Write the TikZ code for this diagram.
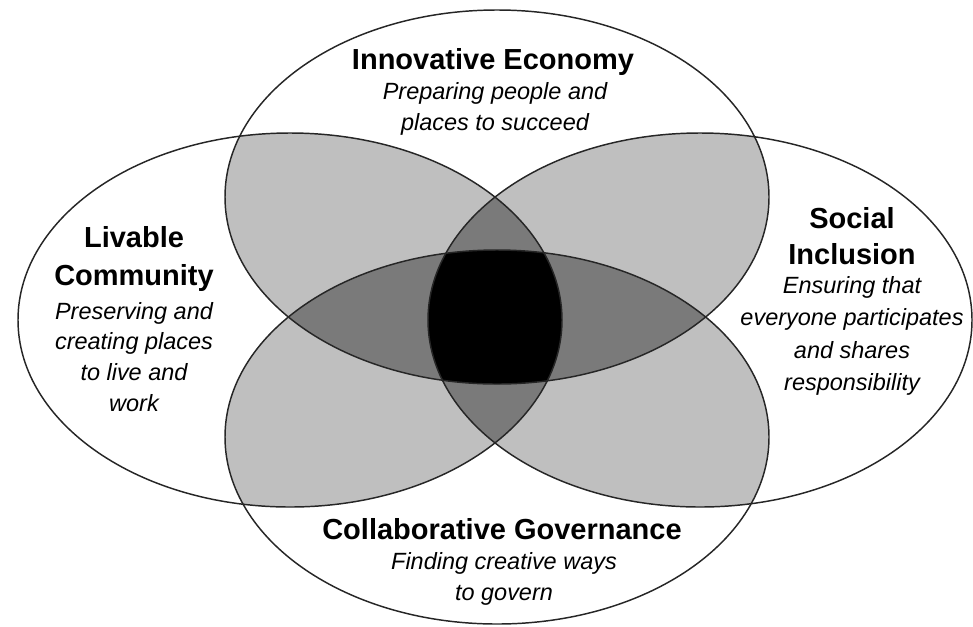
\documentclass[tikz,border=0pt]{standalone}
\usepackage{fontspec}
\setmainfont{Liberation Sans}
\tikzset{ring/.style={draw=black!85, line width=1.1pt}}
\tikzset{two/.style={fill=black!25}, three/.style={fill=black!52},
    four/.style={fill=black}}
\tikzset{head/.style={font=\fontsize{21.75}{27}\selectfont\bfseries,
    align=center, inner sep=0pt}}
\tikzset{sub/.style={font=\fontsize{17.6}{23.2}\selectfont\itshape,
    align=center, inner sep=0pt}}

\begin{document}
\begin{tikzpicture}[x=0.75pt, y=-0.75pt, x radius=272, y radius=187]
    \useasboundingbox (0,0) rectangle (973,626);
    \coordinate (top) at (497,197);
    \coordinate (bot) at (497,437);
    \coordinate (lft) at (290,320);
    \coordinate (rgt) at (700,320);

    \foreach \a/\b in {top/bot,top/lft,top/rgt,bot/lft,bot/rgt,lft/rgt} {
      \begin{scope}
        \clip (\a) ellipse[];
        \fill[two] (\b) ellipse[];
      \end{scope}
    }
    \foreach \a/\b/\c in {top/bot/lft,top/bot/rgt,top/lft/rgt,bot/lft/rgt} {
      \begin{scope}
        \clip (\a) ellipse[];
        \clip (\b) ellipse[];
        \fill[three] (\c) ellipse[];
      \end{scope}
    }
    \begin{scope}
      \clip (top) ellipse[];
      \clip (bot) ellipse[];
      \clip (lft) ellipse[];
      \fill[four] (rgt) ellipse[];
    \end{scope}
    \foreach \a in {top,bot,lft,rgt}
    \draw[ring] (\a) ellipse[];

    \node[head] (ieHead) at (493,62) {Innovative Economy};
    \node[sub] (ieSub) at (495,109) {Preparing people and\\places to succeed};
    \node[head, font=\fontsize{21.75}{28.5}\selectfont\bfseries]
      (lcHead) at (134,259) {Livable\\Community};
    \node[sub] (lcSub) at (134,357)
      {Preserving and\\creating places\\to live and\\work};
    \node[head] (siHead) at (852,236) {Social\\Inclusion};
    \node[sub, font=\fontsize{17.6}{24.2}\selectfont\itshape]
      (siSub) at (852,336)
      {Ensuring that\\everyone participates\\and shares\\responsibility};
    \node[head] (cgHead) at (502,529) {Collaborative Governance};
    \node[sub] (cgSub) at (504,579) {Finding creative ways\\to govern};
  \end{tikzpicture}
\end{document}
